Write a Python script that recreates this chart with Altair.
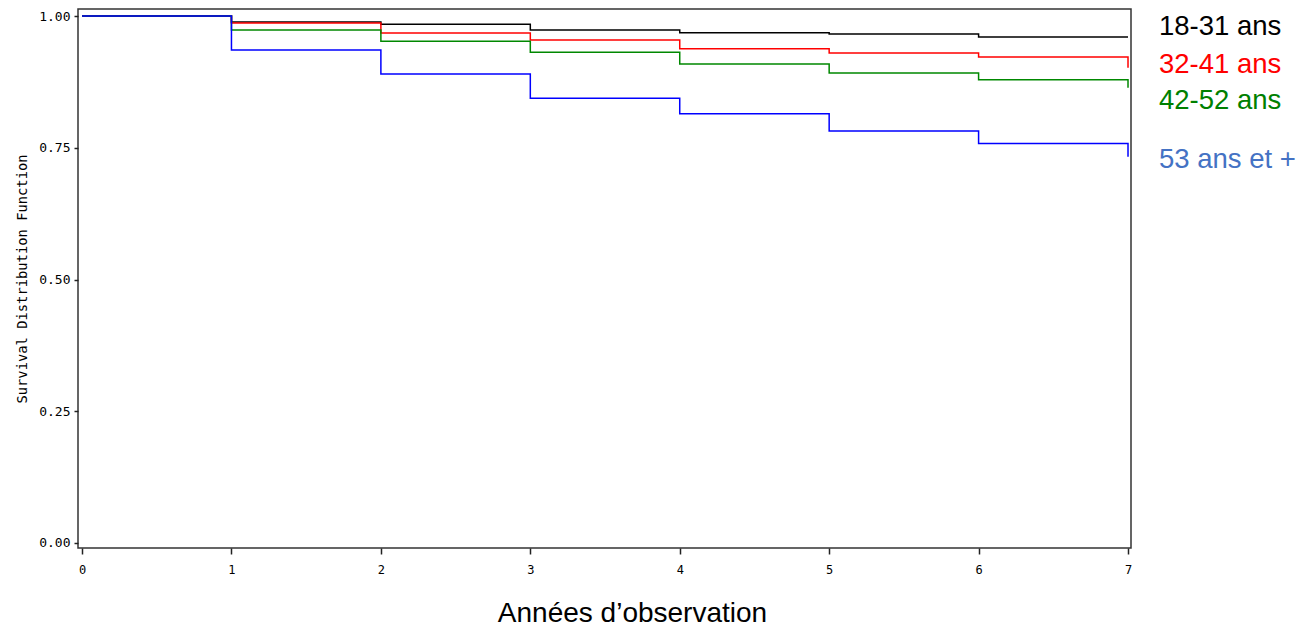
import altair as alt
import pandas as pd

# ---- data ----
groups = ["18-31 ans", "32-41 ans", "42-52 ans", "53 ans et +"]
years = [0, 1, 2, 3, 4, 5, 6, 7]
surv_18_31 = [1.0, 0.9886, 0.9844, 0.9734, 0.968, 0.966, 0.960]
surv_32_41 = [1.0, 0.9867, 0.9677, 0.9545, 0.938, 0.930, 0.922]
surv_42_52 = [1.0, 0.9734, 0.952, 0.931, 0.909, 0.892, 0.879]
surv_53 = [1.0, 0.9355, 0.890, 0.844, 0.8146, 0.782, 0.758]
final_values = [0.960, 0.902, 0.864, 0.733]
y_ticks = [0.0, 0.25, 0.5, 0.75, 1.0]
x_ticks = [0, 1, 2, 3, 4, 5, 6, 7]

line_colors = ["#000000", "#FF0000", "#008800", "#0000FF"]
label_colors = ["#000000", "#FF0000", "#008000", "#4472C4"]

series = [surv_18_31, surv_32_41, surv_42_52, surv_53]
rows = []
for g, vals, fin in zip(groups, series, final_values):
    i = 0
    for t, v in zip(years[:-1], vals):
        rows.append({"group": g, "t": t, "s": v, "i": i}); i += 1
    rows.append({"group": g, "t": years[-1], "s": vals[-1], "i": i}); i += 1
    rows.append({"group": g, "t": years[-1], "s": fin, "i": i})
df = pd.DataFrame(rows)

W, H = 1053, 539

lines = alt.Chart(df).mark_line(interpolate="step-after", strokeWidth=1.5).encode(
    x=alt.X("t:Q",
            scale=alt.Scale(domain=[-0.027, 7.02], nice=False, zero=False),
            axis=alt.Axis(values=x_ticks, format="d", title="Années d’observation",
                          titleFont="Liberation Sans", titleFontSize=28, titleFontWeight="normal",
                          titleColor="#000", titleX=554, titleY=65, titleBaseline="middle",
                          titleAnchor="start", titleAlign="center",
                          labelFont="DejaVu Sans Mono", labelFontSize=12, labelColor="#000",
                          labelPadding=10, tickSize=6, tickColor="#222", tickWidth=1.5,
                          domain=False, grid=False)),
    y=alt.Y("s:Q",
            scale=alt.Scale(domain=[-0.0095, 1.0133], nice=False, zero=False),
            axis=alt.Axis(values=y_ticks, format=".2f", title="Survival Distribution Function",
                          titleFont="DejaVu Sans Mono", titleFontSize=13.8, titleFontWeight="normal",
                          titleColor="#000", titleX=-56, titleY=H / 2, titleAngle=270,
                          titleAlign="center", titleBaseline="middle",
                          labelFont="DejaVu Sans Mono", labelFontSize=13, labelColor="#000",
                          labelPadding=4, tickSize=4, tickColor="#222", tickWidth=1.5,
                          domain=False, grid=False)),
    color=alt.Color("group:N", scale=alt.Scale(domain=groups, range=line_colors), legend=None),
    order=alt.Order("i:Q"),
)

label_df = pd.DataFrame({"group": groups, "color": label_colors})
label_y_px = [18, 56, 92, 150.5]
label_df["py"] = label_y_px

labels = alt.Chart(label_df).mark_text(
    align="left", baseline="middle", font="Liberation Sans", fontSize=27.5
).encode(
    x=alt.value(1081),
    y=alt.Y("py:Q", scale=None),
    text="group:N",
    color=alt.Color("color:N", scale=None),
)

chart = alt.layer(lines, labels).properties(
    width=W, height=H,
    autosize=alt.AutoSizeParams(type="none"),
    padding={"left": 78, "top": 9, "right": 172, "bottom": 81},
    background="white",
).configure_view(stroke="#333", strokeWidth=1.5)

chart.save("out.html", embed_options={"renderer": "svg", "actions": False})
